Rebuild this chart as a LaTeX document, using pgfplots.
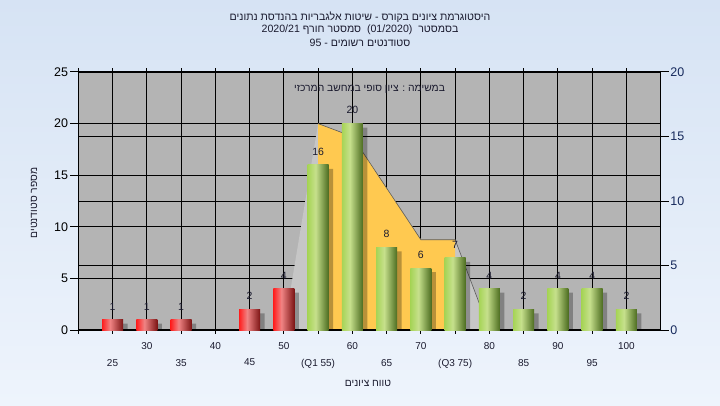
\documentclass[border=0pt]{standalone}
\usepackage{fontspec}
\setmainfont{Liberation Sans}
\newfontfamily\heb[Script=Hebrew]{Liberation Sans}
\TeXXeTstate=1
\usepackage{pgfplots}
\usepackage{pgfplotstable}
\pgfplotsset{compat=1.18}

\definecolor{bgtop}{HTML}{D6E3F4}
\definecolor{bgbot}{HTML}{EEF4FC}
\definecolor{plotbg}{HTML}{B4B4B4}
\definecolor{iqr}{HTML}{FFC950}
\definecolor{tail}{HTML}{C6C6C6}
\definecolor{redA}{HTML}{FF1E1E}
\definecolor{redB}{HTML}{F08484}
\definecolor{redC}{HTML}{7C1414}
\definecolor{grnA}{HTML}{A6D456}
\definecolor{grnB}{HTML}{C6E08C}
\definecolor{grnC}{HTML}{4C6C20}
\definecolor{txt}{HTML}{1A1A2E}
\definecolor{rlab}{HTML}{16295C}

% cylinder look: 25bp..75bp is the bar itself
\pgfdeclarehorizontalshading{redbar}{100bp}{color(0bp)=(redA); color(25bp)=(redA);
  color(44bp)=(redB); color(75bp)=(redC); color(100bp)=(redC)}
\pgfdeclarehorizontalshading{grnbar}{100bp}{color(0bp)=(grnA); color(25bp)=(grnA);
  color(44bp)=(grnB); color(75bp)=(grnC); color(100bp)=(grnC)}

% grades 50 and below
\pgfplotstableread{
x n
25 1
30 1
35 1
45 2
50 4
}\failtab
% grades 55 and above
\pgfplotstableread{
x n
55 16
60 20
65 8
70 6
75 7
80 4
85 2
90 4
95 4
100 2
}\passtab
% area on the right axis
\pgfplotstableread{
x n
50 0
55 16
60 15
65 11
70 7
75 7
80 0
}\spreadtab
\pgfplotstableread{
x n
55 16
60 15
65 11
70 7
75 7
}\iqrtab

\pgfplotsset{
  frame/.style={at={(78.3pt,75pt)}, anchor=south west, scale only axis,
    width=582.4pt, height=258pt, xmin=20, xmax=105,
    /pgf/number format/assume math mode=true},
  bars/.style={ybar, bar width=21pt, bar shift=0pt, draw=none},
  shadow/.style={ybar, bar width=21pt, bar shift=4.5pt, draw=none,
    fill=black, fill opacity=0.28, yshift=-4pt},
  labels/.style={nodes near coords,
    every node near coord/.append style={anchor=south, yshift=6pt,
      font=\fontsize{10.5}{12}\selectfont, text=txt}},
}

\begin{document}
\begin{tikzpicture}[x=1pt,y=1pt]
\useasboundingbox (0,0) rectangle (720,405);
\shade[top color=bgtop, bottom color=bgbot] (0,0) rectangle (720,405);

% background, grid and x ticks
\begin{axis}[frame, ymin=0, ymax=25,
  axis background/.style={fill=plotbg},
  axis line style={draw=none},
  xtick={20,30,...,100}, xticklabels={,30,40,50,60,70,80,90,100},
  extra x ticks={25,35,...,95},
  extra x tick labels={25,35,45,(Q1 55),65,(Q3 75),85,95},
  extra x tick style={grid=major, xticklabel style={yshift=-17pt}},
  ytick={5,10,...,25}, yticklabels={}, ytick style={draw=none},
  grid=major, major grid style={black, line width=1pt},
  tick align=outside, major tick length=3.5pt,
  xtick style={black, line width=1pt},
  xticklabel style={font=\fontsize{10}{12}\selectfont, text=txt, yshift=-5pt},
]
\end{axis}

% right scale: grid, area, ticks
\begin{axis}[frame, ymin=0, ymax=20,
  axis x line*=bottom, axis y line*=right, xtick=\empty,
  x axis line style={draw=none},
  ytick={0,5,...,20}, ymajorgrids, major grid style={black, line width=1pt},
  tick align=outside, major tick length=8pt,
  ytick style={black, line width=1pt},
  y axis line style={black, line width=1.2pt},
  yticklabel style={font=\fontsize{12.5}{14}\selectfont, text=rlab, inner sep=1.5pt},
]
\addplot[fill=tail, draw=none] table {\spreadtab} \closedcycle;
\addplot[fill=iqr, draw=none] table {\iqrtab} \closedcycle;
\addplot[draw=black!65, line width=0.6pt, restrict x to domain=55:80] table {\spreadtab};
\end{axis}

% left scale: bars
\begin{axis}[frame, ymin=0, ymax=25,
  axis x line*=bottom, axis y line*=left,
  xtick=\empty, ytick={0,5,...,25},
  tick align=outside, major tick length=8pt,
  ytick style={black, line width=1pt},
  axis line style={black, line width=1.2pt},
  yticklabel style={font=\fontsize{12.5}{14}\selectfont, text=black, inner sep=2pt},
]
\addplot[shadow] table {\failtab};
\addplot[shadow] table {\passtab};
% one plot per bar, so that each bar gets its own shading
\pgfplotsinvokeforeach{25,30,35,45,50}{
  \addplot[bars, shading=redbar, labels, restrict x to domain=#1:#1] table {\failtab};
}
\pgfplotsinvokeforeach{55,60,...,100}{
  \addplot[bars, shading=grnbar, labels, restrict x to domain=#1:#1] table {\passtab};
}
\end{axis}

\begin{scope}[font=\fontsize{10.6}{12}\selectfont, text=txt]
\node at (360,388) {\heb\beginR היסטוגרמת ציונים בקורס - שיטות אלגבריות בהנדסת נתונים\endR};
\node at (360,375) {\heb\beginR בסמסטר \ \beginL(01/2020)\endL{} \ סמסטר חורף \beginL 2020/21\endL\endR};
\node at (360,362) {\heb\beginR סטודנטים רשומים - 95\endR};
\end{scope}
\begin{scope}[font=\fontsize{10.3}{12}\selectfont, text=txt]
\node at (369.5,316) {\heb\beginR במשימה : ציון סופי במחשב המרכזי\endR};
\node at (368,22) {\heb\beginR טווח ציונים\endR};
\node[rotate=90] at (34,202) {\heb\beginR מספר סטודנטים\endR};
\end{scope}
\end{tikzpicture}
\end{document}
